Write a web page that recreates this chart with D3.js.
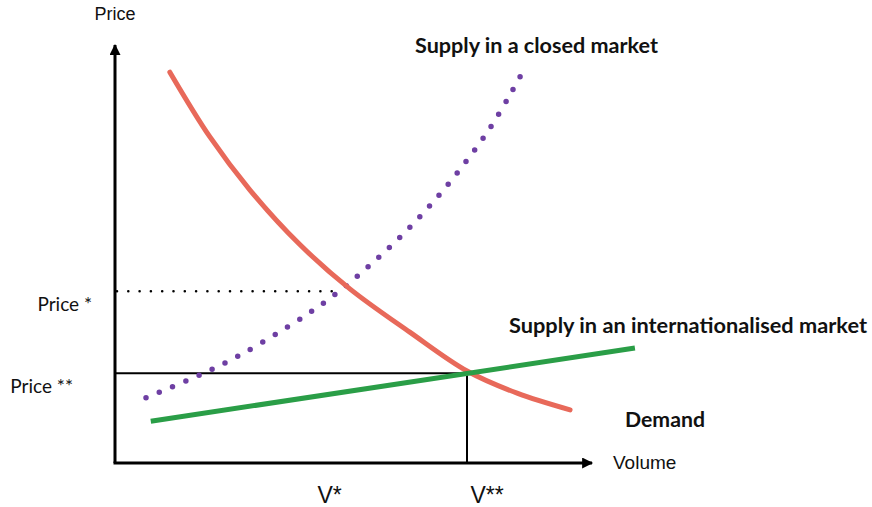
<!DOCTYPE html>
<html>
<head>
<meta charset="utf-8">
<script src="https://cdn.jsdelivr.net/npm/d3@7"></script>
<style>
  body { margin: 0; background: #fff; }
  .sans { font-family: "Liberation Sans", Arial, sans-serif; fill: #111; }
  .cal { font-family: Lato, "Open Sans", sans-serif; fill: #111; }
</style>
</head>
<body>
<div id="chart"></div>
<script>
// curves, in axis units (0..100 on both axes)
const demandVolume = [11.5, 19.9, 28.3, 38.8, 49.3, 61.8, 73.8, 84.3, 95.4];
const demandPrice  = [93.5, 78.0, 65.3, 52.2, 41.6, 31.3, 22.0, 16.7, 12.7];

const closedVolume = [6.5, 17.8, 26.2, 39.4, 46.8, 53.9, 60.6, 66.9, 72.7, 78.2, 83.0, 86.0];
const closedPrice  = [15.6, 21.1, 25.8, 34.9, 40.9, 47.8, 55.0, 62.7, 70.8, 79.4, 88.5, 94.7];

const intlVolume = [7.5, 109.0];
const intlPrice  = [10.0, 27.5];

// equilibria
const priceStar = 41.1, volumeStar = 47;
const priceStar2 = 21.5, volumeStar2 = 73.8;

// tick labels
const volumeLabels = ["V*", "V**"];
const volumeLabelAt = [45, 78];
const priceLabels = ["Price *", "Price **"];

const width = 872, height = 507;

const x = d3.scaleLinear().domain([0, 100]).range([115, 592]);
const y = d3.scaleLinear().domain([0, 100]).range([463, 45]);

const svg = d3.select("#chart")
  .append("svg")
  .attr("width", width)
  .attr("height", height);

const defs = svg.append("defs");
defs.append("marker")
  .attr("id", "arrow")
  .attr("viewBox", "0 0 10 10")
  .attr("refX", 9)
  .attr("refY", 5)
  .attr("markerUnits", "userSpaceOnUse")
  .attr("markerWidth", 13)
  .attr("markerHeight", 11)
  .attr("orient", "auto")
  .append("path")
  .attr("d", "M0,0 L10,5 L0,10 Z")
  .attr("fill", "#000");

const line = d3.line()
  .x(d => x(d[0]))
  .y(d => y(d[1]))
  .curve(d3.curveCatmullRom);

// price * dotted guide
svg.append("line")
  .attr("x1", x(0) + 2).attr("x2", x(volumeStar))
  .attr("y1", y(priceStar)).attr("y2", y(priceStar))
  .attr("stroke", "#000")
  .attr("stroke-width", 2.6)
  .attr("stroke-linecap", "round")
  .attr("stroke-dasharray", "0 11.3");

// price ** / V** solid guides
svg.append("line")
  .attr("x1", x(0)).attr("x2", x(volumeStar2))
  .attr("y1", y(priceStar2)).attr("y2", y(priceStar2))
  .attr("stroke", "#000").attr("stroke-width", 2);
svg.append("line")
  .attr("x1", x(volumeStar2)).attr("x2", x(volumeStar2))
  .attr("y1", y(0)).attr("y2", y(priceStar2))
  .attr("stroke", "#000").attr("stroke-width", 2);

// supply in a closed market (dotted purple)
svg.append("path")
  .datum(d3.zip(closedVolume, closedPrice))
  .attr("d", line)
  .attr("fill", "none")
  .attr("stroke", "#6e3fa3")
  .attr("stroke-width", 5.5)
  .attr("stroke-linecap", "round")
  .attr("stroke-dasharray", "0 14.4");

// demand
svg.append("path")
  .datum(d3.zip(demandVolume, demandPrice))
  .attr("d", line)
  .attr("fill", "none")
  .attr("stroke", "#e8695a")
  .attr("stroke-width", 5)
  .attr("stroke-linecap", "round");

// supply in an internationalised market
svg.append("path")
  .datum(d3.zip(intlVolume, intlPrice))
  .attr("d", line)
  .attr("fill", "none")
  .attr("stroke", "#2a9e47")
  .attr("stroke-width", 5);

// axes
svg.append("line")
  .attr("x1", x(0)).attr("y1", y(0))
  .attr("x2", x(0)).attr("y2", y(100))
  .attr("stroke", "#000").attr("stroke-width", 3)
  .attr("marker-end", "url(#arrow)");
svg.append("line")
  .attr("x1", x(0) - 1.5).attr("y1", y(0))
  .attr("x2", x(100)).attr("y2", y(0))
  .attr("stroke", "#000").attr("stroke-width", 3)
  .attr("marker-end", "url(#arrow)");

// axis titles
svg.append("text").attr("class", "sans")
  .attr("x", x(0)).attr("y", 20)
  .attr("text-anchor", "middle")
  .style("font-size", "18px")
  .text("Price");
svg.append("text").attr("class", "sans")
  .attr("x", 613).attr("y", y(0) + 6)
  .style("font-size", "19px")
  .text("Volume");

// volume labels
svg.selectAll(".vlab")
  .data(volumeLabels)
  .enter()
  .append("text")
  .attr("class", "sans vlab")
  .attr("x", (d, i) => x(volumeLabelAt[i]))
  .attr("y", y(0) + 40)
  .attr("text-anchor", "middle")
  .style("font-size", "23px")
  .text(d => d);

// price labels
const priceLabelEnd = [92, 73];
svg.selectAll(".plab")
  .data(priceLabels)
  .enter()
  .append("text")
  .attr("class", "cal plab")
  .attr("x", (d, i) => priceLabelEnd[i])
  .attr("y", (d, i) => y([priceStar, priceStar2][i]) + 20)
  .attr("text-anchor", "end")
  .style("font-size", "19px")
  .text(d => d);

// curve labels
function boldLabel(txt, px, py, len) {
  svg.append("text").attr("class", "cal")
    .attr("x", px).attr("y", py)
    .attr("textLength", len)
    .attr("lengthAdjust", "spacingAndGlyphs")
    .style("font-size", "20px")
    .style("font-weight", "bold")
    .text(txt);
}
boldLabel("Supply in a closed market", 415, 53, 243);
boldLabel("Supply in an internationalised market", 509, 333, 358);
boldLabel("Demand", 625, 427, 80);
</script>
</body>
</html>
